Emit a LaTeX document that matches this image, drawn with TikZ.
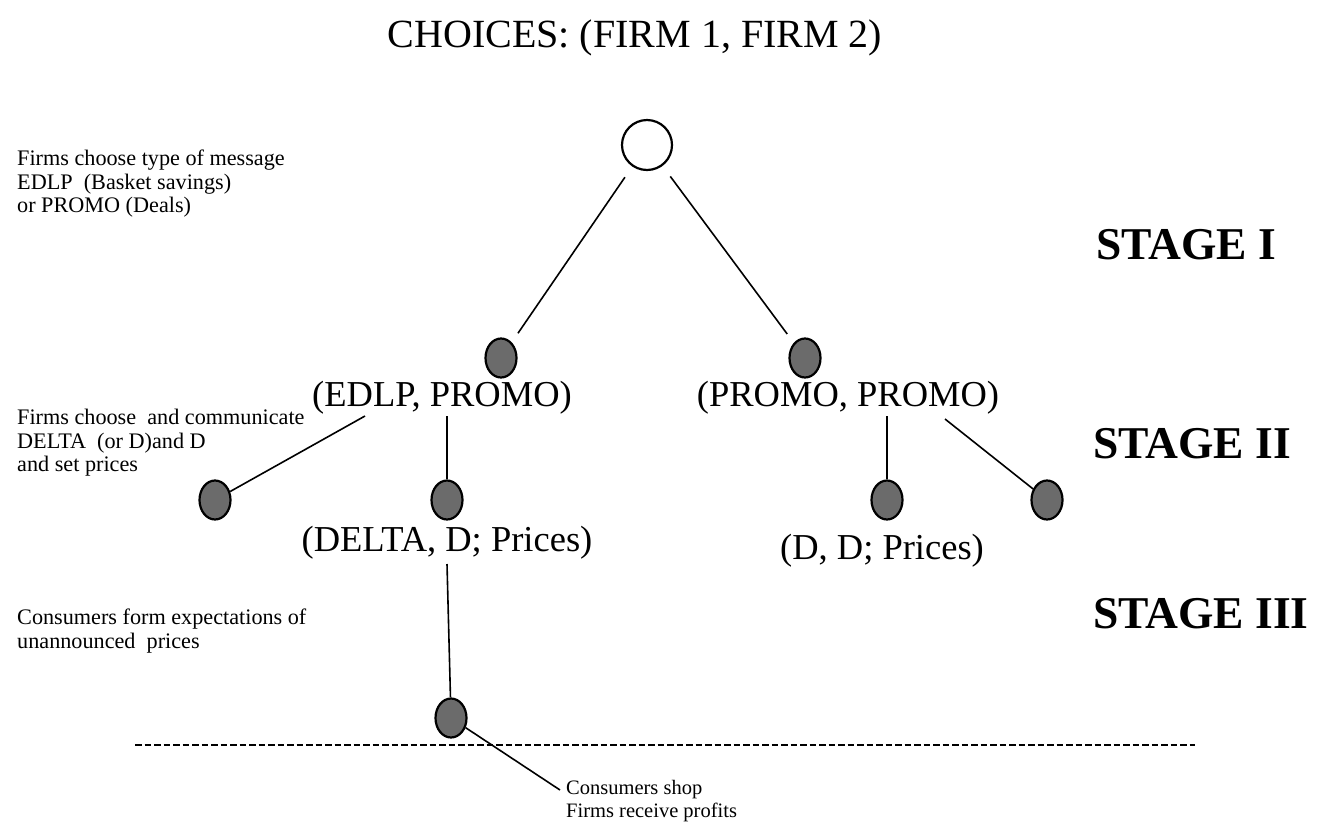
\documentclass[tikz,border=0pt]{standalone}
\usepackage{fontspec}
\setmainfont{Liberation Serif}
\usetikzlibrary{shapes.geometric,positioning}

\begin{document}
\begin{tikzpicture}[
  x=1pt, y=-1pt,
  dot/.style={ellipse, draw, line width=2.2pt, fill=black!58, inner sep=0pt,
    minimum width=31pt, minimum height=39pt},
  lbl/.style={font=\fontsize{36.5}{40}\selectfont, inner sep=0pt},
  note/.style={font=\fontsize{22.2}{23.5}\selectfont, align=left, inner sep=0pt, anchor=north west},
  stage/.style={font=\fontsize{45.5}{50}\selectfont\bfseries, inner sep=0pt, anchor=west},
  edge/.style={line width=1.6pt}
]
\useasboundingbox (0,0) rectangle (1337,836);
\node[lbl, font=\fontsize{40}{44}\selectfont] (title) at (635,38) {CHOICES: (FIRM 1, FIRM 2)};

% tree
\node[circle, draw, line width=2.2pt, minimum size=50pt, inner sep=0pt] (root) at (647,145) {};
\node[dot] (edlp) at (501,358) {};
\node[dot] (promo) at (805,358) {};
\node[lbl] (lab1) at (442,398) {(EDLP, PROMO)};
\node[lbl] (lab2) at (848,398) {(PROMO, PROMO)};
\node[dot] (a) at (215,500) {};
\node[dot] (b) at (447,500) {};
\node[dot] (c) at (887,500) {};
\node[dot] (d) at (1047,500) {};
\node[lbl] (lab3) at (447,543) {(DELTA, D; Prices)};
\node[lbl] (lab4) at (882,551) {(D, D; Prices)};
\node[dot] (e) at (451,718) {};
\node[note, font=\fontsize{20.5}{23}\selectfont] (shop) at (566,780) {Consumers shop\\Firms receive profits};

\coordinate (s1) at (365,416);
\coordinate (s2) at (447,416);
\coordinate (s3) at (887,416);
\coordinate (s4) at (945,419);
\coordinate (s5) at (447,564);
\coordinate (dl) at (135,745);
\coordinate (dr) at (1195,745);

\draw[edge, shorten <=13pt, shorten >=11pt] (root) -- (edlp);
\draw[edge, shorten <=13pt, shorten >=11pt] (root) -- (promo);
\draw[edge] (s1) -- (a);
\draw[edge] (s2) -- (b);
\draw[edge] (s3) -- (c);
\draw[edge] (s4) -- (d);
\draw[edge] (s5) -- (e);
\draw[edge] (e) -- ([shift={(-6,10)}]shop.north west);
\draw[line width=1.1pt, dash pattern=on 6.5pt off 3pt] (dl) -- (dr);

% left notes
\node[note] (n1) at (17,150) {Firms choose type of message\\EDLP\ \ (Basket savings)\\or PROMO (Deals)};
\node[note] (n2) at (17,409) {Firms choose\ \ and communicate\\DELTA\ \ (or D)and D\\and set prices};
\node[note] (n3) at (17,609) {Consumers form expectations of\\unannounced\ \ prices};

% stages
\node[stage] (st1) at (1096,245) {STAGE I};
\node[stage] (st2) at (1093,444) {STAGE II};
\node[stage] (st3) at (1093,614) {STAGE III};
\end{tikzpicture}
\end{document}
